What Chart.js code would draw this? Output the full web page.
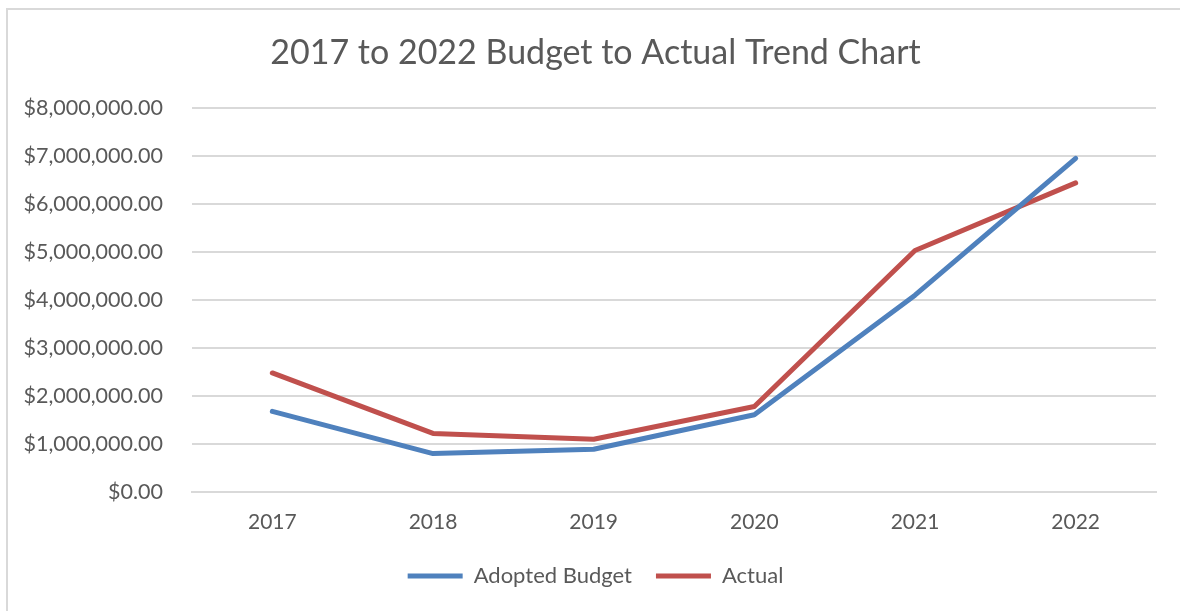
<!DOCTYPE html>
<html>
<head>
<meta charset="utf-8">
<script src="https://cdn.jsdelivr.net/npm/chart.js@4.4.0/dist/chart.umd.min.js"></script>
<style>
  body { margin: 0; background: #fff; overflow: hidden; }
  .moldura { position: absolute; left: 6px; top: 8px; width: 1300px; height: 800px; border-top: 2px solid #d9d9d9; border-left: 2px solid #d9d9d9; }
  .caixa { position: absolute; left: 0; top: 0; width: 1180px; height: 611px; }
</style>
</head>
<body>
<div class="moldura"></div>
<div class="caixa"><canvas id="meuGrafico" width="1180" height="611"></canvas></div>
<script>
let anos = ["2017", "2018", "2019", "2020", "2021", "2022"];
let orcamento = [1680000, 800000, 890000, 1610000, 4100000, 6950000];
let realizado = [2480000, 1220000, 1100000, 1780000, 5030000, 6440000];
let titulo = "2017 to 2022 Budget to Actual Trend Chart";

let fonte = "Lato, 'Open Sans', sans-serif";
let cinza = '#595959';

let ctx = document.getElementById('meuGrafico').getContext('2d');

let myChart = new Chart(ctx, {
  type: 'line',
  data: {
    labels: anos,
    datasets: [{
      label: 'Adopted Budget',
      data: orcamento,
      borderColor: '#4f81bd',
      backgroundColor: '#4f81bd',
      borderWidth: 5,
      borderCapStyle: 'round',
      borderJoinStyle: 'round',
      pointRadius: 0,
      tension: 0
    }, {
      label: 'Actual',
      data: realizado,
      borderColor: '#c0504d',
      backgroundColor: '#c0504d',
      borderWidth: 5,
      borderCapStyle: 'round',
      borderJoinStyle: 'round',
      pointRadius: 0,
      tension: 0
    }]
  },
  options: {
    responsive: false,
    animation: false,
    layout: { padding: { left: 11, right: 0, top: 0, bottom: 14 } },
    plugins: {
      title: {
        display: true,
        text: titulo,
        color: cinza,
        font: { family: fonte, size: 34, weight: 'normal' },
        padding: { top: 32.6, bottom: 34.6 }
      },
      legend: {
        position: 'bottom',
        labels: {
          color: cinza,
          font: { family: fonte, size: 22 },
          usePointStyle: true,
          pointStyle: 'line',
          pointStyleWidth: 55,
          padding: 24
        }
      },
      tooltip: { enabled: false }
    },
    scales: {
      x: {
        offset: true,
        grid: { display: false, drawTicks: false },
        border: { color: '#d9d9d9', width: 2 },
        ticks: { color: cinza, font: { family: fonte, size: 21 }, padding: 18 },
        afterFit: (scale) => { scale.height = 49; }
      },
      y: {
        min: 0,
        max: 8000000,
        ticks: {
          stepSize: 1000000,
          color: cinza,
          font: { family: fonte, size: 21.5 },
          padding: 29,
          callback: (valor) => '$' + Number(valor).toLocaleString('en-US', { minimumFractionDigits: 2, maximumFractionDigits: 2 })
        },
        grid: { color: '#d9d9d9', lineWidth: 2, drawTicks: false },
        border: { display: false },
        afterFit: (scale) => { scale.width = 181; }
      },
      margem: {
        position: 'right',
        display: true,
        grid: { display: false, drawTicks: false },
        border: { display: false },
        ticks: { display: false },
        afterFit: (scale) => { scale.width = 24; }
      }
    }
  }
});
</script>
</body>
</html>
